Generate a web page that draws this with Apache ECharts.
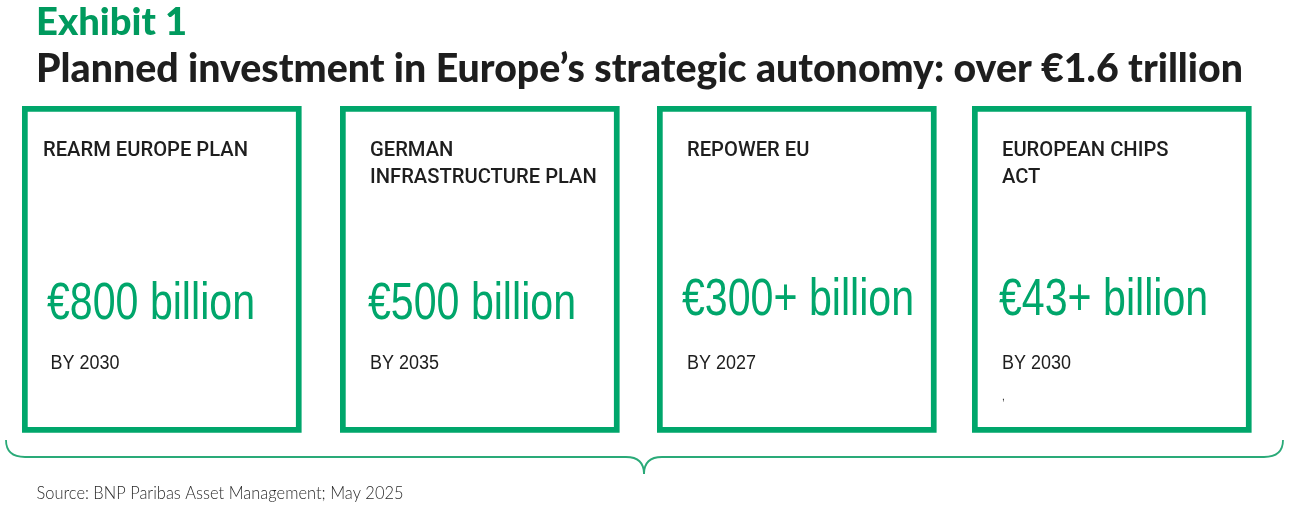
<!DOCTYPE html>
<html>
<head>
<meta charset="utf-8">
<script src="https://cdn.jsdelivr.net/npm/echarts/dist/echarts.min.js"></script>
<style>
  html, body { margin: 0; padding: 0; background: #ffffff; }
  #chart { width: 1290px; height: 508px; }
</style>
</head>
<body>
<div id="chart"></div>
<script>
// ---- data ----
const exhibitLabel = 'Exhibit 1';
const chartTitle = 'Planned investment in Europe\u2019s strategic autonomy: over \u20ac1.6 trillion';
const plans = ['REARM EUROPE PLAN', 'GERMAN\nINFRASTRUCTURE PLAN', 'REPOWER EU', 'EUROPEAN CHIPS\nACT'];
const amounts = ['\u20ac800 billion', '\u20ac500 billion', '\u20ac300+ billion', '\u20ac43+ billion'];
const horizons = ['BY 2030', 'BY 2035', 'BY 2027', 'BY 2030'];
const footnotes = ['', '', '', ','];
const sourceNote = 'Source: BNP Paribas Asset Management; May 2025';

// ---- layout / style ----
const GREEN = '#00a66b';
const GREEN_DARK = '#009a5e';
const BRACE = '#2aaa78';
const INK = '#1e1e1e';

const boxLeft = [22, 340, 657, 972];
const boxTop = 106, boxW = 279.6, boxH = 326.8, border = 5.7;
const labelDx = [21, 30, 30, 30];
const amountDx = [25, 28, 25, 27];
const amountY = [305, 305, 300.6, 300.6];
const byDx = [28.5, 30, 30, 30];

const cv = document.createElement('canvas').getContext('2d');
function measure(text, weight, size, family) {
  cv.font = weight + ' ' + size + 'px ' + family;
  return cv.measureText(text).width;
}

const F_BIG = "'Liberation Sans', Arial, sans-serif";
const F_LABEL = "Roboto, 'Liberation Sans', sans-serif";
const F_BY = "'Liberation Sans', Arial, sans-serif";
const F_TITLE = "Lato, 'Noto Sans', sans-serif";
const F_SRC = "Lato, 'Noto Sans', sans-serif";

const bigSize = 52, labelSize = 21, bySize = 20.5, titleSize = 39, exSize = 38, srcSize = 17.5;
const bigScale = 208 / measure(amounts[0], 'normal', bigSize, F_BIG);
const labelScale = 205 / measure('REARM EUROPE PLAN', '500', labelSize, F_LABEL);
const byScale = 69 / measure('BY 2030', 'normal', bySize, F_BY);
const titleScale = 1207 / measure(chartTitle, '900', titleSize, F_TITLE);
const exScale = 151 / measure(exhibitLabel, '900', exSize, F_TITLE);
const srcScale = 367 / measure(sourceNote, '300', srcSize, F_SRC);

function txt(x, y, text, size, family, weight, fill, sx) {
  return {
    type: 'text', x: x, y: y, scaleX: sx, silent: true,
    style: { text: text, fontSize: size, fontFamily: family, fontWeight: weight,
             fill: fill, align: 'left', verticalAlign: 'middle' }
  };
}

const elements = [];
elements.push(txt(36, 22.5, exhibitLabel, exSize, F_TITLE, '900', GREEN_DARK, exScale));
elements.push(txt(36, 69.5, chartTitle, titleSize, F_TITLE, '900', INK, titleScale));

plans.forEach(function (p, i) {
  const L = boxLeft[i];
  elements.push({
    type: 'rect', silent: true,
    shape: { x: L + border / 2, y: boxTop + border / 2, width: boxW - border, height: boxH - border },
    style: { fill: 'none', stroke: GREEN, lineWidth: border }
  });
  p.split('\n').forEach(function (line, j) {
    elements.push(txt(L + labelDx[i], 150.8 + j * 27, line, labelSize, F_LABEL, '500', INK, labelScale));
  });
  elements.push(txt(L + amountDx[i], amountY[i], amounts[i], bigSize, F_BIG, 'normal', GREEN, bigScale));
  elements.push(txt(L + byDx[i], 363.3, horizons[i], bySize, F_BY, 'normal', INK, byScale));
  if (footnotes[i]) {
    elements.push(txt(L + 30, 397, footnotes[i], 10, F_BY, 'normal', INK, 1));
  }
});

// curly brace under the boxes (built from curve and line pieces)
const braceStyle = { fill: 'none', stroke: BRACE, lineWidth: 1.8 };
function curve(x1, y1, c1x, c1y, c2x, c2y, x2, y2) {
  return { type: 'bezierCurve', silent: true,
    shape: { x1: x1, y1: y1, cpx1: c1x, cpy1: c1y, cpx2: c2x, cpy2: c2y, x2: x2, y2: y2 },
    style: braceStyle };
}
function seg(x1, y1, x2, y2) {
  return { type: 'line', silent: true, shape: { x1: x1, y1: y1, x2: x2, y2: y2 }, style: braceStyle };
}
elements.push(curve(6, 440, 6, 451, 12, 457, 25, 457));
elements.push(seg(25, 457, 626, 457));
elements.push(curve(626, 457, 638, 457, 644, 463, 644, 474));
elements.push(curve(644, 474, 644, 463, 650, 457, 662, 457));
elements.push(seg(662, 457, 1264, 457));
elements.push(curve(1264, 457, 1277, 457, 1283, 451, 1283, 440));

elements.push(txt(36.5, 493.8, sourceNote, srcSize, F_SRC, '300', '#2b2b2b', srcScale));

const chart = echarts.init(document.getElementById('chart'), null, { renderer: 'canvas' });
chart.setOption({
  backgroundColor: '#ffffff',
  animation: false,
  graphic: { elements: elements }
});
</script>
</body>
</html>
